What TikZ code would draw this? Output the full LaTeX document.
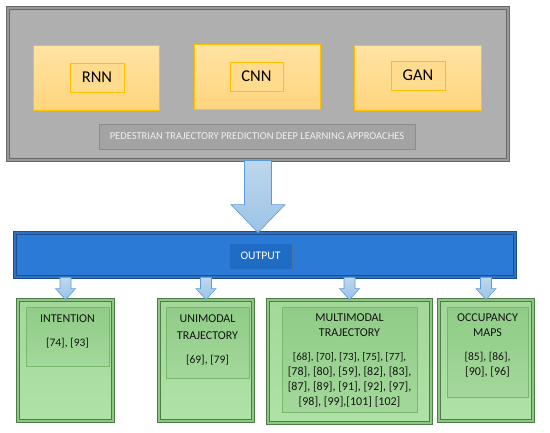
\documentclass[tikz,border=0pt]{standalone}
\usepackage{fontspec}
\setmainfont{Carlito}
\usetikzlibrary{positioning,calc}

\definecolor{grayfill}{HTML}{AFAFAF}
\definecolor{grayline}{HTML}{6A6A6A}
\definecolor{grayband}{HTML}{999999}
\definecolor{yeltop}{HTML}{FFE3A3}
\definecolor{yelbot}{HTML}{FFD57E}
\definecolor{yelline}{HTML}{FFC000}
\definecolor{bluefill}{HTML}{2B7BD6}
\definecolor{blueline}{HTML}{1B4F8F}
\definecolor{blueband}{HTML}{3070C0}
\definecolor{bluedark}{HTML}{1F6CC4}
\definecolor{arrtop}{HTML}{BDD7EE}
\definecolor{arrbot}{HTML}{9DC3E6}
\definecolor{arrline}{HTML}{5B9BD5}
\definecolor{grntop}{HTML}{A3D89A}
\definecolor{grnbot}{HTML}{AFE2A6}
\definecolor{grnline}{HTML}{4C7D45}
\definecolor{grnband}{HTML}{8CC783}
\definecolor{grnin}{HTML}{90CC87}
\definecolor{grninline}{HTML}{78B76E}

\newcommand{\refsize}{\fontsize{11.5}{15}\selectfont}

\begin{document}
\begin{tikzpicture}[x=1pt,y=-1pt]
	\tikzset{every node/.style={rectangle,inner sep=0pt}}
	\tikzset{outerbox/.style={draw=grayline,double=grayband,double distance=1.6pt,line width=1pt,fill=grayfill}}
	\tikzset{yelbox/.style={draw=yelline,line width=1pt,top color=yeltop,bottom color=yelbot}}
	\tikzset{yeltag/.style={draw=yelline,line width=1pt,fill=yelbot!60!yeltop,font=\fontsize{16.5}{18}\selectfont,text=black}}
	\tikzset{barbox/.style={draw=blueline,double=blueband,double distance=1.6pt,line width=0.8pt,fill=bluefill}}
	\tikzset{grnbox/.style={draw=grnline,double=grnband,double distance=1.6pt,line width=0.8pt,top color=grntop,bottom color=grnbot}}
	\tikzset{grnin/.style={draw=grninline,line width=0.8pt,top color=grnin,bottom color=grntop}}
	\tikzset{grntext/.style={align=center,font=\fontsize{12}{15}\selectfont,text=black!92}}
	\tikzset{blockarrow/.style={draw=arrline,line width=0.6pt,top color=arrtop,bottom color=arrbot}}
	\useasboundingbox (0,0) rectangle (550,432);

	\node[outerbox,minimum width=500,minimum height=152] (app) at (258,84) {};
	\node[yelbox,minimum width=126,minimum height=65] (rnnB) at (96,77.5) {};
	\node[yelbox,minimum width=126,minimum height=65] (cnnB) at (257,76.5) {};
	\node[yelbox,minimum width=127,minimum height=65] (ganB) at (417.5,77.5) {};
	\node[yeltag,minimum width=54,minimum height=29] (rnn) at (97,77.5) {RNN};
	\node[yeltag,minimum width=53,minimum height=29] (cnn) at (256.5,76.5) {CNN};
	\node[yeltag,minimum width=54,minimum height=29] (gan) at (418,75.5) {GAN};
	\node[draw=black!45,line width=0.8pt,fill=black!36,minimum width=316,minimum height=25,
		text=white!94!black,font=\fontsize{10.5}{12}\selectfont] (title) at (257,136.5)
		{PEDESTRIAN TRAJECTORY PREDICTION DEEP LEARNING APPROACHES};

	\node[barbox,minimum width=500,minimum height=44] (outB) at (265,255) {};
	\node[draw=blueline!80,line width=0.6pt,fill=bluedark,minimum width=63,minimum height=26,
		text=white,font=\fontsize{11.6}{13}\selectfont] (out) at (260.5,256) {OUTPUT};

	\node[grnbox,minimum width=95,minimum height=121] (intB) at (65.5,360.5) {};
	\node[grnbox,minimum width=94,minimum height=121] (uniB) at (206,360.5) {};
	\node[grnbox,minimum width=163,minimum height=123] (mulB) at (349.5,361.5) {};
	\node[grnbox,minimum width=94,minimum height=121] (occB) at (486,360.5) {};
	\node[grnin,minimum width=83,minimum height=59] (intI) at (67.5,336.5) {};
	\node[grnin,minimum width=83,minimum height=71] (uniI) at (207.5,342.5) {};
	\node[grnin,minimum width=135,minimum height=105] (mulI) at (349.5,359.5) {};
	\node[grnin,minimum width=81,minimum height=90] (occI) at (487.5,352) {};

	\node[grntext,below=7.5pt of intI.north] (intT) {INTENTION\\[9pt]\refsize[74], [93]};
	\node[grntext,below=7.5pt of uniI.north] (uniT) {UNIMODAL\\[2pt]TRAJECTORY\\[9pt]\refsize[69], [79]};
	\node[grntext,below=7pt of mulI.north] (mulT)
		{MULTIMODAL\\[0pt]TRAJECTORY\\[9pt]\fontsize{11}{13.5}\selectfont[68], [70], [73], [75], [77],\\{}[78], [80], [59], [82], [83],\\{}[87], [89], [91], [92], [97],\\{}[98], [99],[101] [102]};
	\node[grntext,below=7pt of occI.north] (occT) {OCCUPANCY\\[0pt]MAPS\\[9pt]\refsize[85], [86],\\{}[90], [96]};

	% big arrow
	\coordinate (tip) at (app.south |- outB.north);
	\draw[blockarrow] ($(app.south)+(-13.5,0)$) -- ($(app.south)+(13.5,0)$) -- ($(tip)+(13.5,-28)$)
		-- ($(tip)+(27,-28)$) -- (tip) -- ($(tip)+(-27,-28)$) -- ($(tip)+(-13.5,-28)$) -- cycle;

	% small arrows
	\foreach \b in {intB,uniB,mulB,occB}{
		\coordinate (s) at (outB.south -| \b.north);
		\draw[blockarrow] ($(s)+(-5.5,0)$) -- ($(s)+(5.5,0)$) -- ($(\b.north)+(5.5,-11)$)
			-- ($(\b.north)+(10,-11)$) -- (\b.north) -- ($(\b.north)+(-10,-11)$) -- ($(\b.north)+(-5.5,-11)$) -- cycle;
	}
\end{tikzpicture}
\end{document}
